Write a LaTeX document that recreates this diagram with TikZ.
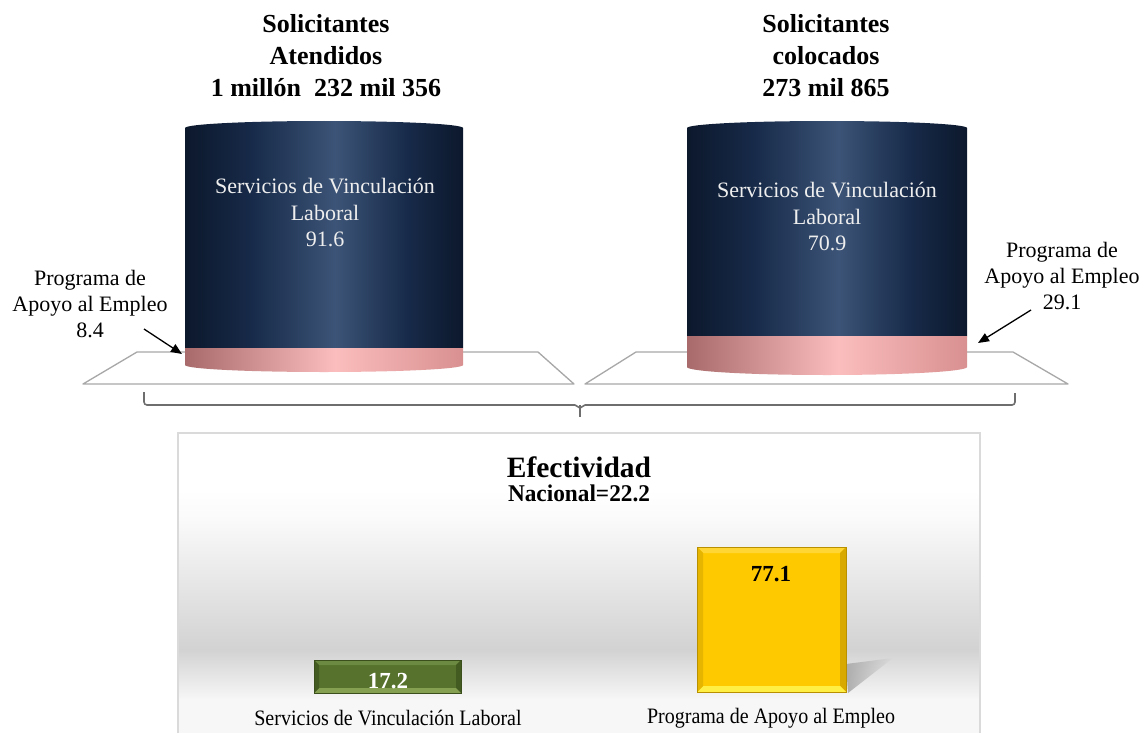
\documentclass[tikz,border=0pt]{standalone}
\usepackage{fontspec}
\setmainfont{Liberation Serif}
\usetikzlibrary{arrows.meta,fadings}
\definecolor{navyA}{HTML}{0C182C}
\definecolor{navyB}{HTML}{3C5477}
\definecolor{navyC}{HTML}{172A49}
\definecolor{pinkA}{HTML}{A86A6A}
\definecolor{pinkB}{HTML}{FBBDBD}
\definecolor{pinkC}{HTML}{D99090}
\definecolor{platgray}{HTML}{A8A8A8}
\definecolor{bracegray}{HTML}{6E6E6E}
\definecolor{panelline}{HTML}{DADADA}
\definecolor{paneltop}{HTML}{FAFAFA}
\definecolor{panelmid}{HTML}{D2D2D2}
\definecolor{panelbot}{HTML}{F7F7F7}
\definecolor{goldA}{HTML}{FFC900}
\definecolor{goldTop}{HTML}{FFD633}
\definecolor{goldSide}{HTML}{D8A900}
\definecolor{goldBot}{HTML}{FFEE44}
\definecolor{goldEdge}{HTML}{B89000}
\definecolor{greenA}{HTML}{56722C}
\definecolor{greenTop}{HTML}{6D8A42}
\definecolor{greenSide}{HTML}{435A20}
\definecolor{greenBot}{HTML}{86A052}
\definecolor{greenEdge}{HTML}{3A4F1B}
\definecolor{cyltext}{HTML}{EEEEEE}
\pgfdeclarehorizontalshading{cyldark}{100bp}{color(0bp)=(navyA); color(25bp)=(navyA); color(37bp)=(navyC); color(52bp)=(navyB); color(65bp)=(navyC); color(75bp)=(navyA); color(100bp)=(navyA)}
\pgfdeclarehorizontalshading{cylpink}{100bp}{color(0bp)=(pinkA); color(25bp)=(pinkA); color(52bp)=(pinkB); color(75bp)=(pinkC); color(100bp)=(pinkC)}
\tikzset{
  titletext/.style={align=center, font=\fontsize{26}{32}\selectfont\bfseries, inner sep=0pt},
  cyllabel/.style={align=center, text=cyltext, font=\fontsize{22}{26.5}\selectfont, inner sep=0pt},
  annot/.style={align=center, font=\fontsize{22}{26}\selectfont, inner sep=0pt},
  annotarrow/.style={line width=1.3pt, -{Triangle[length=11pt,width=9pt]}},
  platform/.style={draw=platgray, line width=1.3pt, line join=round},
  bracestyle/.style={draw=bracegray, line width=1.6pt},
  barlabel/.style={font=\fontsize{22}{24}\selectfont, inner sep=0pt},
  barvalue/.style={font=\fontsize{23}{26}\selectfont\bfseries, inner sep=0pt}
}
\begin{document}
\begin{tikzpicture}[x=1pt,y=-1pt]
\useasboundingbox (0,0) rectangle (1142,733);
\fill[white] (0,0) rectangle (1142,733);

% titles
\node[titletext] (titleL) at (326,56) {Solicitantes\\Atendidos\\1 millón\ \ 232 mil 356};
\node[titletext] (titleR) at (826,56) {Solicitantes\\colocados\\273 mil 865};

% platforms
\draw[platform] (137,352) -- (538,352) -- (574,384) -- (83,384) -- cycle;
\draw[platform] (636,352) -- (1013,352) -- (1068,384) -- (585,384) -- cycle;

% left cylinder
\shade[shading=cyldark] (185,128) arc[start angle=180,end angle=360,x radius=139,y radius=7] -- (463,348) -- (185,348) -- cycle;
\shade[shading=cylpink] (185,348) -- (463,348) -- (463,365) arc[start angle=0,end angle=180,x radius=139,y radius=7] -- cycle;
% right cylinder
\shade[shading=cyldark] (687,128) arc[start angle=180,end angle=360,x radius=140,y radius=7] -- (967,336) -- (687,336) -- cycle;
\shade[shading=cylpink] (687,336) -- (967,336) -- (967,367) arc[start angle=0,end angle=180,x radius=140,y radius=8] -- cycle;

\node[cyllabel] (svlL) at (325,213) {Servicios de Vinculación\\Laboral\\91.6};
\node[cyllabel] (svlR) at (827,217) {Servicios de Vinculación\\Laboral\\70.9};

% annotations
\node[annot] (paeL) at (90,304) {Programa de\\Apoyo al Empleo\\8.4};
\node[annot] (paeR) at (1062,276) {Programa de\\Apoyo al Empleo\\29.1};
\coordinate (tipL) at (182,354);
\coordinate (tipR) at (978,343);
\draw[annotarrow] (144,329) -- (tipL);
\draw[annotarrow] (1031,310) -- (tipR);

% brace
\draw[bracestyle, line join=round] (144,392) -- (144,402) arc[start angle=180,end angle=90,radius=3] -- (575,405) -- (580,408) -- (585,405) -- (1012,405) arc[start angle=90,end angle=0,radius=3] -- (1015,393);
\draw[bracestyle] (580,405) -- (580,417);

% panel
\fill[white] (178,433) rectangle (980,490);
\shade[top color=white, bottom color=paneltop] (178,489) rectangle (980,520);
\shade[top color=paneltop, bottom color=panelmid] (178,519) rectangle (980,650);
\shade[top color=panelmid, bottom color=panelbot] (178,649) rectangle (980,700);
\fill[panelbot] (178,699) rectangle (980,733);
\draw[draw=panelline, line width=1.3pt] (178,733) -- (178,433) -- (980,433) -- (980,733);

\node[font=\fontsize{29.5}{32}\selectfont\bfseries, inner sep=0pt] (efect) at (579,467) {Efectividad};
\node[font=\fontsize{24}{26}\selectfont\bfseries, inner sep=0pt] (nac) at (579,493) {\scalebox{0.97}[1]{Nacional=22.2}};

% shadow of yellow bar
\fill[black!32, path fading=east] (846,664) -- (893,658) -- (848,693) -- cycle;

% yellow bar
\fill[goldA] (697,547) rectangle (846,692);
\fill[goldTop] (697,547) -- (846,547) -- (840,553) -- (703,553) -- cycle;
\fill[goldSide] (846,547) -- (846,692) -- (840,686) -- (840,553) -- cycle;
\fill[goldBot] (697,692) -- (846,692) -- (840,686) -- (703,686) -- cycle;
\fill[goldA!90!black] (697,547) -- (703,553) -- (703,686) -- (697,692) -- cycle;
\draw[goldEdge, line width=1pt] (697,547) rectangle (846,692);
\node[barvalue] (v2) at (771,574) {77.1};

% green bar
\fill[greenA] (314,660) rectangle (461,693);
\fill[greenTop] (314,660) -- (461,660) -- (456,665) -- (319,665) -- cycle;
\fill[greenSide] (461,660) -- (461,693) -- (456,688) -- (456,665) -- cycle;
\fill[greenBot] (314,693) -- (461,693) -- (456,688) -- (319,688) -- cycle;
\fill[greenSide] (314,660) -- (319,665) -- (319,688) -- (314,693) -- cycle;
\draw[greenEdge, line width=1pt] (314,660) rectangle (461,693);
\node[barvalue, text=white] (v1) at (388,681) {17.2};

\node[barlabel] (lab1) at (388,718) {\scalebox{0.91}[1]{Servicios de Vinculación Laboral}};
\node[barlabel] (lab2) at (771,718) {\scalebox{0.91}[1]{Programa de Apoyo al Empleo}};
\end{tikzpicture}
\end{document}
